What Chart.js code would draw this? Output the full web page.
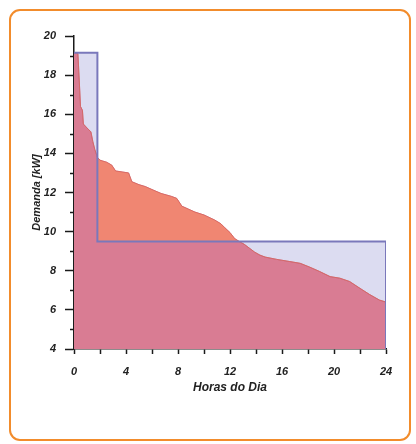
<!DOCTYPE html>
<html>
<head>
<meta charset="utf-8">
<script src="https://cdn.jsdelivr.net/npm/chart.js@4/dist/chart.umd.min.js"></script>
<style>
  html, body { margin: 0; padding: 0; background: #ffffff; }
  #wrap { position: relative; width: 416px; height: 444px; }
  #frame {
    position: absolute; left: 9px; top: 9px; width: 398px; height: 428px;
    border: 2.5px solid #f28c2c; border-radius: 11px; box-sizing: content-box;
  }
  #c { position: absolute; left: 0; top: 0; }
</style>
</head>
<body>
<div id="wrap">
  <div id="frame"></div>
  <canvas id="c" width="416" height="444"></canvas>
</div>
<script>
// Load duration curve: demand sorted from highest to lowest over the day
const hours = [0, 0.3, 0.4, 0.5, 0.65, 0.72, 1.0, 1.3, 1.45, 1.6, 1.8, 2.0, 2.5, 2.9, 3.2, 4.2, 4.45,
  5.0, 5.5, 6.0, 6.7, 7.5, 7.9, 8.3, 9.3, 10.0, 10.8, 11.3, 11.6, 12.0, 12.35, 12.7, 13.1, 13.5,
  13.9, 14.3, 14.7, 15.6, 16.6, 17.4, 18.15, 18.9, 19.7, 20.45, 21.2, 22.0, 22.75, 23.5, 24.0];
const demand = [19.15, 19.1, 17.8, 16.4, 16.2, 15.5, 15.3, 15.1, 14.6, 14.2, 13.8, 13.65, 13.55, 13.4, 13.1, 13.0, 12.55,
  12.4, 12.3, 12.15, 11.95, 11.8, 11.7, 11.3, 11.0, 10.85, 10.6, 10.4, 10.2, 9.95, 9.65, 9.5, 9.35, 9.15,
  8.95, 8.8, 8.7, 8.58, 8.47, 8.38, 8.18, 7.96, 7.7, 7.62, 7.45, 7.1, 6.78, 6.5, 6.4];

// Contracted demand profile (peak block, then flat level)
const blockHours = [0, 1.8, 1.8, 24, 24];
const blockDemand = [19.15, 19.15, 9.5, 9.5, 4];

// Axis ticks
const xTicks = [0, 4, 8, 12, 16, 20, 24];
const yTicks = [4, 6, 8, 10, 12, 14, 16, 18, 20];
const yMinorTicks = [5, 7, 9, 11, 13, 15, 17, 19];

const toXY = (xs, ys) => xs.map((x, i) => ({ x: x, y: ys[i] }));

const tickFont = { family: 'Liberation Sans', size: 11, weight: 'bold', style: 'italic' };

const minorTicks = {
  id: 'minorTicks',
  afterDraw(chart) {
    const ctx = chart.ctx;
    const ys = chart.scales.y;
    const x0 = chart.chartArea.left;
    ctx.save();
    ctx.strokeStyle = '#1a1a1a';
    ctx.lineWidth = 1.5;
    yMinorTicks.forEach(v => {
      const py = Math.round(ys.getPixelForValue(v)) + 0.5;
      ctx.beginPath();
      ctx.moveTo(x0 - 4, py);
      ctx.lineTo(x0, py);
      ctx.stroke();
    });
    ctx.restore();
  }
};

new Chart(document.getElementById('c'), {
  type: 'line',
  data: {
    datasets: [
      { // block outline, on top
        data: toXY(blockHours, blockDemand),
        borderColor: '#7a78bb', borderWidth: 2, fill: false,
        pointRadius: 0, tension: 0, order: 1
      },
      { // demand above the flat level
        data: toXY(hours, demand),
        borderColor: 'rgba(215,100,90,0.7)', borderWidth: 1,
        backgroundColor: '#f08672',
        fill: { target: 0, above: '#f08672', below: 'rgba(0,0,0,0)' },
        pointRadius: 0, tension: 0, order: 2
      },
      { // demand served
        data: toXY(hours, demand),
        borderColor: 'rgba(200,100,125,0.8)', borderWidth: 1,
        backgroundColor: '#d97c93', fill: 'start',
        pointRadius: 0, tension: 0, order: 3
      },
      { // block area
        data: toXY(blockHours, blockDemand),
        borderWidth: 0, borderColor: 'rgba(0,0,0,0)',
        backgroundColor: '#dcdcf1', fill: 'start',
        pointRadius: 0, tension: 0, order: 4
      }
    ]
  },
  options: {
    responsive: false,
    animation: false,
    events: [],
    layout: { padding: { left: 30, top: 36, right: 30, bottom: 49 } },
    plugins: { legend: { display: false }, tooltip: { enabled: false } },
    scales: {
      x: {
        type: 'linear', min: 0, max: 24,
        afterBuildTicks: s => { s.ticks = [0, 2, 4, 6, 8, 10, 12, 14, 16, 18, 20, 22, 24].map(v => ({ value: v })); },
        afterFit: s => { s.height = 46; },
        border: { color: '#1a1a1a', width: 1.5 },
        grid: { drawOnChartArea: false, drawTicks: true, tickLength: 5, tickColor: '#1a1a1a', tickWidth: 1.5 },
        ticks: {
          color: '#222', font: tickFont, padding: 11, maxRotation: 0, autoSkip: false,
          callback: v => (xTicks.includes(v) ? String(v) : '')
        },
        title: { display: true, text: 'Horas do Dia', color: '#222', padding: 0,
          font: { family: 'Liberation Sans', size: 12, weight: 'bold', style: 'italic' } }
      },
      y: {
        type: 'linear', min: 4, max: 20,
        afterBuildTicks: s => { s.ticks = yTicks.map(v => ({ value: v })); },
        afterFit: s => { s.width = 44; },
        border: { color: '#1a1a1a', width: 1.5 },
        grid: { drawOnChartArea: false, drawTicks: true, tickLength: 9, tickColor: '#1a1a1a', tickWidth: 1.5 },
        ticks: { color: '#222', font: tickFont, padding: 9 },
        title: { display: true, text: 'Demanda [kW]', color: '#222', padding: 0,
          font: { family: 'Liberation Sans', size: 11, weight: 'bold', style: 'italic' } }
      }
    }
  },
  plugins: [minorTicks]
});
</script>
</body>
</html>
